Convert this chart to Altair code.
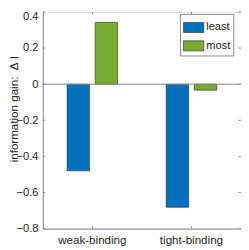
import altair as alt
import pandas as pd

categories = ["weak-binding", "tight-binding"]
series = ["least", "most"]
least_vals = [-0.48, -0.682]
most_vals = [0.343, -0.033]
y_ticks = [-0.8, -0.6, -0.4, -0.2, 0.0, 0.2, 0.4]
colors = ["#0072BD", "#77AC30"]

W, H = 205, 224
FONT = "Liberation Sans"
TXT = "#262626"
GRAY = "#868686"

rows = []
for c, a, b in zip(categories, least_vals, most_vals):
    rows.append({"cat": c, "series": "least", "value": a})
    rows.append({"cat": c, "series": "most", "value": b})
df = pd.DataFrame(rows)
ticks_df = pd.DataFrame({"value": y_ticks})
cats_df = pd.DataFrame({"cat": categories})

xscale = alt.Scale(domain=categories, paddingInner=0.49, paddingOuter=0.245)
yscale = alt.Scale(domain=[-0.8, 0.4], nice=False, zero=False)

xaxis = alt.Axis(title=None, labelAngle=0, ticks=False, tickSize=0,
                 labelPadding=6, labelFont=FONT, labelFontSize=12,
                 labelColor=TXT, domainColor=GRAY)
yaxis = alt.Axis(values=y_ticks, format=".1~f", ticks=False, tickSize=0,
                 labelPadding=5, labelFont=FONT, labelFontSize=11.5,
                 labelColor=TXT, domainColor=GRAY, grid=False,
                 labelOverlap=False, labelFlush=False,
                 labelOffset={"condition": {"test": "datum.value >= 0.39", "value": 4.5}, "value": 0},
                 title="information gain:\u00a0\u00a0\u0394\u00a0I", titleFont=FONT,
                 titleFontSize=12, titleFontWeight="normal",
                 titleColor=TXT, titleAngle=270, titleBaseline="top",
                 titleAlign="center", titleX=-35, titleY=100)

bars = alt.Chart(df).mark_bar(stroke="#2a2a2a", strokeWidth=0.6).encode(
    x=alt.X("cat:N", scale=xscale, sort=categories, axis=xaxis),
    xOffset=alt.XOffset("series:N", scale=alt.Scale(domain=series, paddingInner=0.2, paddingOuter=0)),
    y=alt.Y("value:Q", scale=yscale, axis=yaxis),
    color=alt.Color("series:N", scale=alt.Scale(domain=series, range=colors),
                    legend=alt.Legend(orient="none", legendX=142, legendY=2,
                                      title=None,
                                      symbolType="M-1,-0.5H1V0.5H-1Z",
                                      symbolSize=441, symbolStrokeColor="#2a2a2a",
                                      symbolStrokeWidth=0.6, symbolOpacity=1,
                                      labelFont=FONT, labelFontSize=11.5,
                                      labelColor=TXT, labelOffset=2,
                                      strokeColor=GRAY, fillColor="white",
                                      padding=3, rowPadding=1)),
)

zero = alt.Chart(ticks_df).mark_rule(color=GRAY, strokeWidth=1).encode(
    y=alt.Y("value:Q", scale=yscale, axis=yaxis)
).transform_filter("datum.value == 0")

yt_left = alt.Chart(ticks_df).mark_rule(color=GRAY, strokeWidth=1).encode(
    y=alt.Y("value:Q", scale=yscale, axis=yaxis),
    x=alt.value(0), x2=alt.value(2.5)
)
yt_right = alt.Chart(ticks_df).mark_rule(color=GRAY, strokeWidth=1).encode(
    y=alt.Y("value:Q", scale=yscale, axis=yaxis),
    x=alt.value(W - 2.5), x2=alt.value(W)
)
xt_bot = alt.Chart(cats_df).mark_rule(color=GRAY, strokeWidth=1).encode(
    x=alt.X("cat:N", scale=xscale, sort=categories, bandPosition=0.5, axis=xaxis),
    y=alt.value(H - 2.5), y2=alt.value(H)
)
xt_top = alt.Chart(cats_df).mark_rule(color=GRAY, strokeWidth=1).encode(
    x=alt.X("cat:N", scale=xscale, sort=categories, bandPosition=0.5, axis=xaxis),
    y=alt.value(0), y2=alt.value(2.5)
)

chart = alt.layer(bars, zero, yt_left, yt_right, xt_bot, xt_top).properties(
    width=W, height=H,
    autosize=alt.AutoSizeParams(type="none"),
    padding={"left": 36, "top": 0, "right": 0, "bottom": 18},
).configure_view(stroke=GRAY, strokeWidth=1).configure(
    background="white"
).configure_axis(labelOverlap=False)

chart.save("out.html", embed_options={"renderer": "svg", "actions": False})
